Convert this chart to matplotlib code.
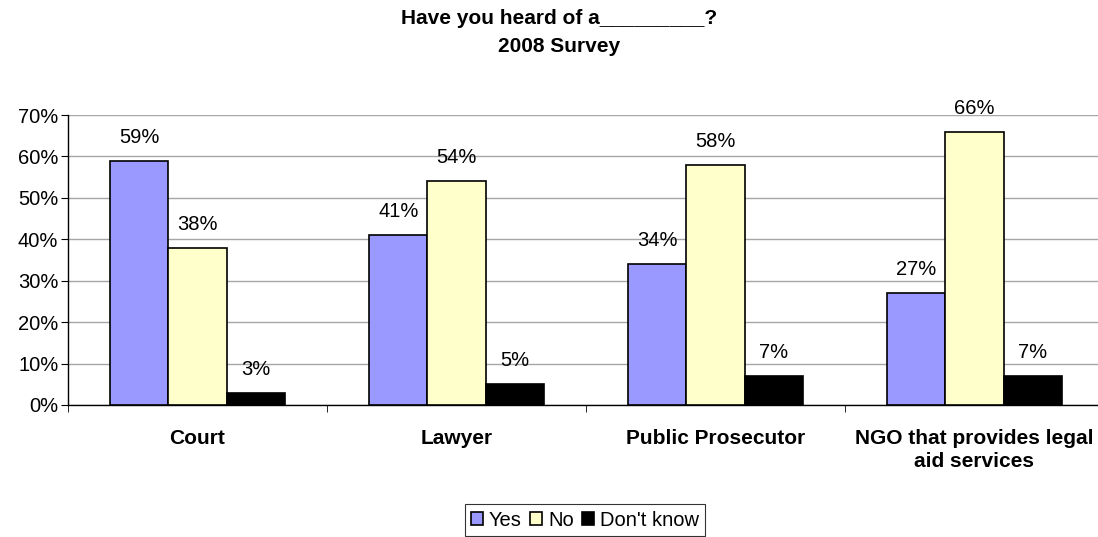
import matplotlib
matplotlib.use("Agg")
import matplotlib.pyplot as plt
import numpy as np

categories = ["Court", "Lawyer", "Public Prosecutor", "NGO that provides legal\naid services"]
series_names = ["Yes", "No", "Don't know"]
yes_vals = [59, 41, 34, 27]
no_vals = [38, 54, 58, 66]
dk_vals = [3, 5, 7, 7]
colors = ["#9999FF", "#FFFFCC", "#000000"]
yticks = [0, 10, 20, 30, 40, 50, 60, 70]

plt.rcParams['font.family'] = ['Liberation Sans', 'DejaVu Sans']

fig = plt.figure(figsize=(10.98, 5.37), dpi=100)
ax = fig.add_axes([68/1098, (537-405)/537, 1036/1098, 290/537])

FS = 14.5
x = np.arange(len(categories))
w = 0.224
for i, (vals, c) in enumerate(zip([yes_vals, no_vals, dk_vals], colors)):
    pos = x + (i - 1) * w
    ax.bar(pos, vals, width=w, color=c, edgecolor="black", linewidth=1.2,
           label=series_names[i], zorder=3)
    for p, v in zip(pos, vals):
        ax.annotate(f"{v}%", (p, v), xytext=(0, 10), textcoords="offset points",
                    ha="center", va="bottom", fontsize=FS, annotation_clip=False)

ax.set_xlim(-0.5, len(categories) - 0.5)
ax.set_ylim(0, 70)
ax.set_yticks(yticks)
ax.set_yticklabels([f"{t}%" for t in yticks], fontsize=FS)
ax.yaxis.grid(True, color="#a6a6a6", linewidth=1, zorder=0)
ax.set_axisbelow(True)
ax.set_xticks(x)
ax.set_xticklabels(categories, fontsize=15, fontweight="bold", linespacing=1.3)
ax.tick_params(axis="x", length=0, pad=17)
ax.set_xticks(np.arange(-0.5, len(categories) - 0.5, 1), minor=True)
ax.tick_params(axis="x", which="minor", length=5, direction="out")
ax.tick_params(axis="y", length=5, direction="out", pad=2)
for s in ["top", "right"]:
    ax.spines[s].set_visible(False)
ax.spines["left"].set_linewidth(1)
ax.spines["bottom"].set_linewidth(1)

fig.text(559/1098, 1 - 18/537, "Have you heard of a_________?", ha="center", va="center",
         fontsize=15, fontweight="bold")
fig.text(559/1098, 1 - 47/537, "2008 Survey", ha="center", va="center",
         fontsize=15, fontweight="bold")

leg = fig.legend(loc="center", bbox_to_anchor=(585/1098, 1 - 520/537), ncol=3, fontsize=FS,
                 frameon=True, fancybox=False, edgecolor="black", handlelength=0.6,
                 handleheight=0.6, handletextpad=0.3, columnspacing=0.4, borderpad=0.3,
                 borderaxespad=0)
leg.get_frame().set_linewidth(0.8)

fig.savefig("out.png", dpi=100)
